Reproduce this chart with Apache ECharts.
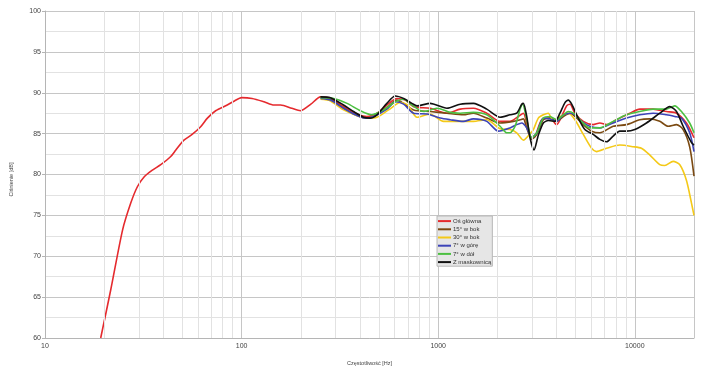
<!DOCTYPE html>
<html><head><meta charset="utf-8">
<script src="https://cdn.jsdelivr.net/npm/echarts@6/dist/echarts.min.js"></script>
<style>html,body{margin:0;padding:0;background:#fff}#c{width:708px;height:372px}</style>
</head><body><div id="c"></div>
<script>
var seriesNames = ['Oś główna', '15° w bok', '30° w bok', '7° w górę', '7° w dół', 'Z maskownicą'];
var seriesColors = ['#e52a2e', '#7b4a12', '#f4c918', '#3d44b8', '#4cc041', '#111111'];
var xTickLabels = [10, 100, 1000, 10000];
var minorGridX = [20,30,40,50,60,70,80,90,200,300,400,500,600,700,800,900,2000,3000,4000,5000,6000,7000,8000,9000];

var osGlowna = [[19.2,60.0],[21.6,65.9],[24.8,73.2],[27.3,76.5],[29.5,78.5],[31.9,79.7],[35,80.5],[38.8,81.2],[43.6,82.2],[46.3,83.0],[50.9,84.2],[56,84.9],[61.9,85.85],[67,86.9],[73.8,87.8],[84.5,88.5],[92,89.0],[100,89.4],[113,89.3],[130,88.9],[146,88.5],[158,88.5],[180,88.1],[199,87.8],[225,88.6],[252,89.5],[283,89.3],[330,88.3],[379,87.5],[434,87.1],[488,87.5],[548,88.5],[616,89.3],[680,89.1],[750,88.3],[910,88.1],[1107,87.5],[1294,88.0],[1510,88.1],[1766,87.5],[2065,86.5],[2319,86.5],[2560,87.1],[2711,87.5],[2820,86.3],[2987,84.5],[3100,84.6],[3360,86.7],[3705,86.9],[4000,86.1],[4245,87.1],[4500,88.4],[4680,88.6],[4960,87.5],[5470,86.5],[6140,86.1],[6640,86.3],[7180,86.1],[8070,86.7],[9430,87.5],[10600,88.0],[12400,88.0],[14500,87.7],[16290,87.5],[18300,86.3],[20000,84.5]];
var bok15 = [[252,89.4],[283,89.2],[330,88.1],[379,87.3],[426,86.9],[470,87.1],[555,88.3],[616,89.1],[667,88.7],[750,87.9],[910,87.7],[1107,87.5],[1343,87.3],[1510,87.5],[1766,86.9],[2065,86.3],[2411,86.5],[2610,86.7],[2711,86.8],[2820,85.7],[2987,84.3],[3170,84.9],[3425,86.7],[3705,86.9],[4000,86.5],[4330,87.1],[4680,87.5],[4960,87.1],[5470,86.1],[6030,85.3],[6640,85.1],[7760,85.9],[9070,86.1],[10600,86.7],[11900,86.8],[13400,86.5],[14770,85.9],[16290,86.1],[17610,85.5],[19010,83.4],[20000,79.8]];
var bok30 = [[252,89.2],[283,89.0],[330,87.9],[386,87.2],[434,86.9],[488,87.0],[559,87.9],[641,88.8],[700,88.5],[780,87.0],[910,87.4],[1064,86.5],[1343,86.5],[1510,86.5],[1766,86.7],[2065,85.6],[2319,85.5],[2508,85.1],[2711,84.2],[2932,85.0],[3050,85.5],[3230,86.9],[3425,87.3],[3630,87.5],[3845,86.5],[4160,87.1],[4590,87.5],[4960,86.7],[5470,84.9],[6030,83.2],[6380,82.8],[7180,83.2],[8390,83.6],[9800,83.4],[10800,83.2],[11900,82.4],[13400,81.2],[14200,81.1],[15660,81.6],[16940,81.2],[18300,79.3],[19420,76.5],[20000,75.0]];
var gora7 = [[252,89.3],[283,89.1],[330,88.1],[379,87.3],[426,86.9],[470,87.1],[555,88.1],[605,88.9],[667,88.6],[750,87.5],[880,87.4],[1024,86.9],[1150,86.7],[1343,86.5],[1510,86.8],[1766,86.5],[2024,85.3],[2319,85.7],[2508,86.1],[2660,86.3],[2820,85.7],[2987,84.5],[3170,85.1],[3425,86.9],[3705,86.8],[4000,86.5],[4330,87.3],[4680,87.5],[4960,87.3],[5360,86.5],[5900,85.9],[6640,85.7],[7760,86.3],[9070,86.9],[10600,87.3],[12400,87.5],[14500,87.3],[15960,87.1],[17270,86.9],[19010,85.1],[20000,82.8]];
var dol7 = [[252,89.4],[294,89.3],[344,88.7],[402,87.8],[460,87.3],[527,87.9],[605,88.9],[667,89.2],[735,88.5],[841,87.7],[984,88.1],[1150,87.6],[1294,87.5],[1510,87.6],[1766,87.3],[2065,85.9],[2233,85.1],[2319,85.1],[2460,85.9],[2610,88.0],[2690,88.6],[2820,86.7],[2987,84.5],[3170,85.1],[3425,86.9],[3705,87.1],[4000,86.7],[4245,87.1],[4590,87.7],[4870,87.5],[5260,86.7],[5900,85.7],[6640,85.7],[7760,86.5],[9070,87.3],[10600,87.7],[12400,88.0],[14500,88.0],[15960,88.4],[17270,87.7],[19010,86.3],[20000,85.1]];
var maskownica = [[252,89.5],[283,89.4],[330,88.5],[371,87.7],[418,87.0],[451,86.9],[488,87.3],[548,88.7],[605,89.6],[667,89.3],[735,88.7],[780,88.4],[910,88.7],[1107,88.1],[1294,88.6],[1510,88.7],[1766,88.0],[2065,87.0],[2319,87.3],[2508,87.5],[2660,88.6],[2711,88.7],[2820,87.1],[2930,84.5],[3070,83.0],[3230,84.8],[3425,86.3],[3630,86.6],[3924,86.5],[4160,87.5],[4413,88.8],[4590,89.1],[4775,88.6],[5155,86.9],[5572,85.5],[6140,84.9],[6640,84.3],[7180,84.0],[7760,84.7],[8390,85.3],[9070,85.3],[10000,85.5],[11460,86.3],[13400,87.5],[15060,88.3],[16290,87.7],[17610,85.9],[19420,83.9],[20000,83.6]];

var allData = [osGlowna, bok15, bok30, gora7, dol7, maskownica];
var chart = echarts.init(document.getElementById('c'), null, {renderer: 'canvas'});
var font = 'Liberation Sans, Arial, sans-serif';
var series = [{
  type: 'line', data: [], z: 1, silent: true,
  markLine: {
    silent: true, symbol: ['none','none'], animation: false,
    label: {show: false},
    lineStyle: {color: '#e2e2e2', width: 1, type: 'solid'},
    data: minorGridX.map(function (v) { return {xAxis: v}; })
  }
}];
seriesNames.forEach(function (n, i) {
  series.push({
    name: n, type: 'line', data: allData[i], z: 2,
    showSymbol: false, smooth: 0.25, animation: false,
    lineStyle: {width: 1.6, color: seriesColors[i]},
    itemStyle: {color: seriesColors[i]}
  });
});
chart.setOption({
  animation: false,
  backgroundColor: '#ffffff',
  grid: {left: 44, right: 14, top: 11, bottom: 34, containLabel: false},
  legend: {
    orient: 'vertical', left: 437, top: 216,
    data: seriesNames, icon: 'rect', itemWidth: 13, itemHeight: 2, itemGap: 0,
    backgroundColor: '#e6e6e6', borderColor: '#b8b8b8', borderWidth: 1,
    padding: [1, 1, 0, 1], borderRadius: 0,
    textStyle: {fontSize: 6, color: '#333', fontFamily: font, lineHeight: 8.2, padding: [0,0,0,-3]}
  },
  xAxis: {
    type: 'log', logBase: 10, min: 10, max: 20000,
    name: 'Częstotliwość [Hz]', nameLocation: 'middle', nameGap: 22,
    nameTextStyle: {fontSize: 5.5, color: '#444', fontFamily: font},
    axisLine: {show: true, lineStyle: {color: '#b5b5b5'}},
    axisTick: {show: false},
    axisLabel: {fontSize: 7, color: '#444', fontFamily: font, margin: 5,
      showMaxLabel: false,
      formatter: function (v) { return xTickLabels.indexOf(Math.round(v)) >= 0 ? String(Math.round(v)) : ''; }},
    splitLine: {show: true, lineStyle: {color: '#c6c6c6', width: 1}}
  },
  yAxis: {
    type: 'value', min: 60, max: 100, interval: 5,
    name: 'Ciśnienie [dB]', nameLocation: 'middle', nameGap: 31, nameRotate: 90,
    nameTextStyle: {fontSize: 5.5, color: '#444', fontFamily: font, padding: [0, 10, 0, 0]},
    axisLine: {show: true, lineStyle: {color: '#b5b5b5'}},
    axisTick: {show: true, length: 3, lineStyle: {color: '#b5b5b5'}},
    axisLabel: {fontSize: 7, color: '#444', fontFamily: font, margin: 4},
    splitLine: {show: true, lineStyle: {color: '#c6c6c6', width: 1}},
    minorTick: {show: false, splitNumber: 2},
    minorSplitLine: {show: true, lineStyle: {color: '#e2e2e2', width: 1}}
  },
  series: series
});
</script>
</body></html>
